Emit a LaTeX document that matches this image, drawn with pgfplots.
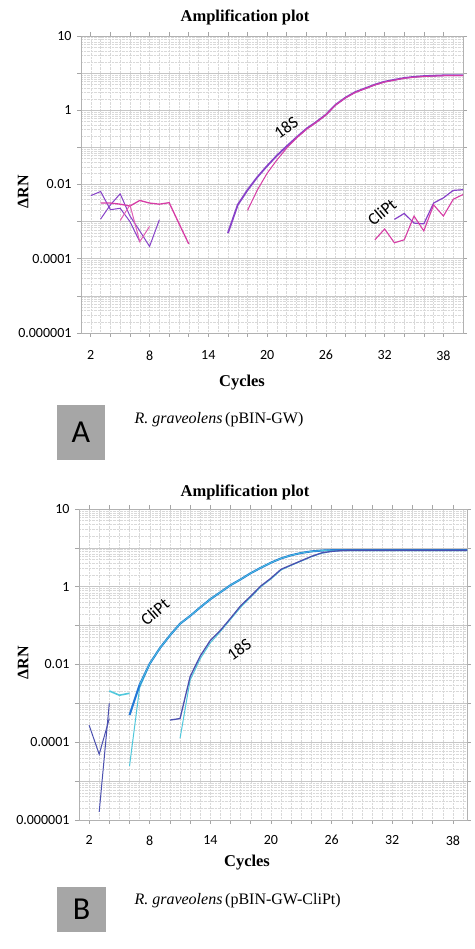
\documentclass[border=0pt]{standalone}
\usepackage{fontspec}
\setmainfont{Liberation Serif}
\newfontfamily\calibri{Carlito}
\usepackage{pgfplots}
\pgfplotsset{compat=1.18}
\definecolor{purpA}{RGB}{135,65,200}
\definecolor{magA}{RGB}{214,60,165}
\definecolor{pinkA}{RGB}{225,95,180}
\definecolor{slateB}{RGB}{75,80,175}
\definecolor{blueB}{RGB}{35,120,215}
\definecolor{cyanB}{RGB}{80,200,220}
\definecolor{boxgray}{RGB}{166,166,166}
\begin{document}
\begin{tikzpicture}
\useasboundingbox (0pt,0pt) rectangle (474pt,949pt);
% ---------------- Panel A ----------------
\begin{axis}[at={(81pt,616pt)}, anchor=south west, width=382pt, height=297pt, xmax=40,
  scale only axis, ymode=log, xmin=1, ymin=1e-6, ymax=100,
  ytick={1e-6,1e-5,1e-4,1e-3,1e-2,1e-1,1,10,100},
  yticklabels={0.000001,,0.0001,,0.01,,1,,10},
  xtick={2,4,...,38},
  xticklabels={2,,,8,,,14,,,20,,,26,,,32,,,38},
  minor xtick={1,...,40},
  minor ytick={2e-6,3e-6,4e-6,5e-6,6e-6,7e-6,8e-6,9e-6,
               2e-5,3e-5,4e-5,5e-5,6e-5,7e-5,8e-5,9e-5,
               2e-4,3e-4,4e-4,5e-4,6e-4,7e-4,8e-4,9e-4,
               2e-3,3e-3,4e-3,5e-3,6e-3,7e-3,8e-3,9e-3,
               2e-2,3e-2,4e-2,5e-2,6e-2,7e-2,8e-2,9e-2,
               0.2,0.3,0.4,0.5,0.6,0.7,0.8,0.9,
               2,3,4,5,6,7,8,9,
               20,30,40,50,60,70,80,90},
  xmajorgrids=false, xminorgrids=true, ymajorgrids=true, yminorgrids=true,
  major grid style={gray!45, line width=0.6pt},
  minor grid style={gray!30, densely dotted, line width=0.4pt},
  axis line style={gray!60},
  tick style={gray!70, line width=0.6pt},
  tick align=outside, major tick length=4pt, minor tick length=0pt,
  ticklabel style={font=\calibri\fontsize{14}{16}\selectfont, text=black},
  yticklabel style={xshift=-2pt},
  xticklabel style={yshift=-10pt}]
% noise, early cycles
\addplot[purpA, line width=1pt] coordinates {(2,5.01e-3)(3,6.46e-3)(4,2.09e-3)(5,2.29e-3)(6,1.0e-3)(7,2.88e-4)};
\addplot[purpA, line width=1pt] coordinates {(3,1.17e-3)(4,2.82e-3)(5,5.62e-3)(6,1.41e-3)(7,5.62e-4)(8,2.14e-4)(9,1.12e-3)};
\addplot[magA, line width=1.3pt] coordinates {(3,3.16e-3)(4,3.16e-3)(5,2.95e-3)(6,2.63e-3)(7,3.72e-3)(8,3.16e-3)(9,2.95e-3)(10,3.24e-3)(11,8.91e-4)(12,2.51e-4)};
\addplot[pinkA, line width=1pt] coordinates {(5,1.07e-3)(6,2.82e-3)(7,2.88e-4)(8,7.41e-4)};
% 18S
\addplot[purpA, line width=1.8pt] coordinates {(16,4.90e-4)(17,2.82e-3)(18,7.08e-3)(19,1.58e-2)(20,3.16e-2)(21,6.03e-2)(22,0.107)(23,0.186)(24,0.316)(25,0.479)(26,0.759)(27,1.41)(28,2.19)(29,3.09)(30,3.89)(31,4.90)(32,5.89)(33,6.61)(34,7.41)(35,7.94)(36,8.32)(37,8.51)(38,8.71)(39,8.71)(40,8.71)};
\addplot[magA, line width=1pt] coordinates {(18,2.00e-3)(19,7.08e-3)(20,2.00e-2)(21,4.57e-2)(22,9.55e-2)(23,0.178)(24,0.302)(25,0.468)(26,0.741)(27,1.38)(28,2.14)(29,3.02)(30,3.80)(31,4.79)(32,5.75)(33,6.46)(34,7.24)(35,7.76)(36,8.13)(37,8.32)(38,8.51)(39,8.51)(40,8.51)};
% CliPt (no amplification)
\addplot[purpA, line width=1.2pt] coordinates {(33,1.15e-3)(34,1.66e-3)(35,9.12e-4)(36,8.71e-4)(37,3.16e-3)(38,4.37e-3)(39,6.92e-3)(40,7.24e-3)};
\addplot[magA, line width=1.1pt] coordinates {(31,3.24e-4)(32,6.31e-4)(33,2.69e-4)(34,3.24e-4)(35,1.41e-3)(36,5.62e-4)(37,2.82e-3)(38,1.41e-3)(39,3.98e-3)(40,5.37e-3)};
\end{axis}
% ---------------- Panel B ----------------
\begin{axis}[at={(79pt,129pt)}, anchor=south west, width=388pt, height=311pt, xmax=39.4,
  scale only axis, ymode=log, xmin=1, ymin=1e-6, ymax=100,
  ytick={1e-6,1e-5,1e-4,1e-3,1e-2,1e-1,1,10,100},
  yticklabels={0.000001,,0.0001,,0.01,,1,,10},
  xtick={2,4,...,38},
  xticklabels={2,,,8,,,14,,,20,,,26,,,32,,,38},
  minor xtick={1,...,40},
  minor ytick={2e-6,3e-6,4e-6,5e-6,6e-6,7e-6,8e-6,9e-6,
               2e-5,3e-5,4e-5,5e-5,6e-5,7e-5,8e-5,9e-5,
               2e-4,3e-4,4e-4,5e-4,6e-4,7e-4,8e-4,9e-4,
               2e-3,3e-3,4e-3,5e-3,6e-3,7e-3,8e-3,9e-3,
               2e-2,3e-2,4e-2,5e-2,6e-2,7e-2,8e-2,9e-2,
               0.2,0.3,0.4,0.5,0.6,0.7,0.8,0.9,
               2,3,4,5,6,7,8,9,
               20,30,40,50,60,70,80,90},
  xmajorgrids=false, xminorgrids=true, ymajorgrids=true, yminorgrids=true,
  major grid style={gray!45, line width=0.6pt},
  minor grid style={gray!30, densely dotted, line width=0.4pt},
  axis line style={gray!60},
  tick style={gray!70, line width=0.6pt},
  tick align=outside, major tick length=4pt, minor tick length=0pt,
  ticklabel style={font=\calibri\fontsize{14}{16}\selectfont, text=black},
  yticklabel style={xshift=-2pt},
  xticklabel style={yshift=-8pt}]
\addplot[slateB, line width=1pt] coordinates {(2,2.75e-4)(3,4.90e-5)(4,4.07e-4)};
\addplot[slateB, line width=1pt] coordinates {(3,1.62e-6)(4,1.0e-3)};
\addplot[cyanB, line width=1.6pt] coordinates {(4,2.09e-3)(5,1.62e-3)(6,1.82e-3)};
% CliPt
\addplot[cyanB, line width=1pt] coordinates {(6,2.45e-5)(7,2.51e-3)(8,1.02e-2)(9,2.60e-2)(10,5.50e-2)(11,0.110)(12,0.178)(13,0.295)(14,0.479)(15,0.724)(16,1.10)(17,1.55)(18,2.24)(19,3.09)(20,4.17)(21,5.37)(22,6.46)(23,7.41)(24,8.13)(25,8.71)(26,8.91)(27,9.0)(28,9.0)(29,9.0)(30,9.0)(31,9.0)(32,9.0)(33,9.0)(34,9.0)(35,9.0)(36,9.0)(37,9.0)(38,9.0)(39,9.0)(40,9.0)};
\addplot[blueB, line width=2pt] coordinates {(6,5.01e-4)(7,3.02e-3)(8,1.05e-2)(9,2.63e-2)(10,5.62e-2)(11,0.112)(12,0.178)(13,0.295)(14,0.479)(15,0.724)(16,1.10)(17,1.55)(18,2.24)(19,3.09)(20,4.17)(21,5.37)(22,6.46)(23,7.41)(24,8.13)(25,8.51)(26,8.71)(27,8.71)(28,8.71)(29,8.71)(30,8.71)(31,8.71)(32,8.71)(33,8.71)(34,8.71)(35,8.71)(36,8.71)(37,8.71)(38,8.71)(39,8.71)(40,8.71)};
\addplot[cyanB, line width=0.7pt] coordinates {(7,3.02e-3)(8,1.05e-2)(9,2.63e-2)(10,5.62e-2)(11,0.112)(12,0.178)(13,0.295)(14,0.479)(15,0.724)(16,1.10)(17,1.55)(18,2.24)(19,3.09)(20,4.17)(21,5.37)(22,6.46)(23,7.41)(24,8.13)(25,8.51)(26,8.71)(27,8.71)(28,8.71)(29,8.71)(30,8.71)(31,8.71)(32,8.71)(33,8.71)(34,8.71)(35,8.71)(36,8.71)(37,8.71)(38,8.71)(39,8.71)(40,8.71)};
% 18S
\addplot[cyanB, line width=1pt] coordinates {(11,1.26e-4)(12,3.98e-3)(13,1.41e-2)(14,3.63e-2)(15,7.08e-2)(16,0.145)(17,0.295)(18,0.537)(19,1.0)(20,1.58)(21,2.69)(22,3.55)(23,4.57)(24,5.89)(25,7.24)(26,8.13)(27,8.51)(28,8.51)(29,8.51)(30,8.51)(31,8.51)(32,8.51)(33,8.51)(34,8.51)(35,8.51)(36,8.51)(37,8.51)(38,8.51)(39,8.51)(40,8.51)};
\addplot[slateB, line width=1.3pt] coordinates {(10,3.72e-4)(11,4.07e-4)(12,4.90e-3)(13,1.66e-2)(14,4.17e-2)(15,7.59e-2)(16,0.155)(17,0.324)(18,0.575)(19,1.05)(20,1.66)(21,2.82)(22,3.63)(23,4.68)(24,6.03)(25,7.41)(26,8.13)(27,8.51)(28,8.71)(29,8.71)(30,8.71)(31,8.71)(32,8.71)(33,8.71)(34,8.71)(35,8.71)(36,8.71)(37,8.71)(38,8.71)(39,8.71)(40,8.71)};
\end{axis}
% ---------------- texts ----------------
\node[font=\bfseries\fontsize{16.5}{16.5}\selectfont] at (245pt,932pt) {Amplification plot};
\node[font=\bfseries\fontsize{16.5}{16.5}\selectfont] at (245pt,457pt) {Amplification plot};
\node[font=\bfseries\fontsize{16}{16}\selectfont, rotate=90] at (23pt,757pt) {ΔRN};
\node[font=\bfseries\fontsize{16}{16}\selectfont, rotate=90] at (23pt,286pt) {ΔRN};
\node[font=\bfseries\fontsize{16.5}{16.5}\selectfont] at (242pt,566pt) {Cycles};
\node[font=\bfseries\fontsize{16.5}{16.5}\selectfont] at (247pt,86pt) {Cycles};
\node[font=\calibri\fontsize{17}{17}\selectfont, rotate=35] at (286pt,821pt) {18S};
\node[font=\calibri\fontsize{17}{17}\selectfont, rotate=40] at (382pt,737pt) {CliPt};
\node[font=\calibri\fontsize{17}{17}\selectfont, rotate=41] at (155pt,337pt) {CliPt};
\node[font=\calibri\fontsize{17}{17}\selectfont, rotate=35] at (239pt,299pt) {18S};
\fill[boxgray] (57pt,489pt) rectangle (105pt,544pt);
\node[font=\calibri\fontsize{32}{32}\selectfont] at (81pt,516.5pt) {A};
\node[anchor=west, font=\fontsize{16}{16}\selectfont] at (131pt,529pt) {\textit{R. graveolens}\,(pBIN-GW)};
\fill[boxgray] (57pt,17pt) rectangle (106pt,62pt);
\node[font=\calibri\fontsize{32}{32}\selectfont] at (81.5pt,39.5pt) {B};
\node[anchor=west, font=\fontsize{16}{16}\selectfont] at (131pt,48pt) {\textit{R. graveolens}\,(pBIN-GW-CliPt)};
\end{tikzpicture}
\end{document}
